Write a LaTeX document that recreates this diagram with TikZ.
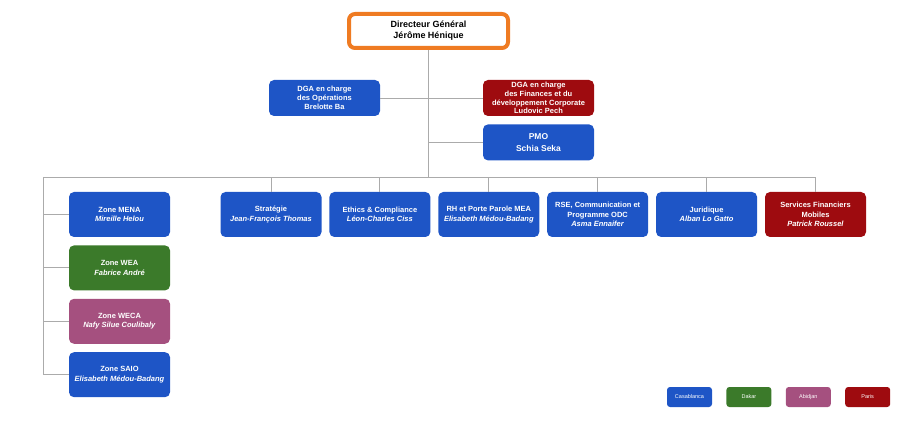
\documentclass[tikz,border=0pt]{standalone}
\usepackage{fontspec}
\setmainfont{Liberation Sans}
\usetikzlibrary{positioning}
\definecolor{casablue}{HTML}{1E55C6}
\definecolor{dakargreen}{HTML}{3B7A2A}
\definecolor{abidjanpink}{HTML}{A5507F}
\definecolor{parisred}{HTML}{9E0B0F}
\definecolor{dgorange}{HTML}{EF7B22}
\definecolor{linkgray}{HTML}{ABABAB}

\begin{document}
\begin{tikzpicture}[x=1pt,y=-1pt,
  node distance=7.5pt,
  box/.style={rounded corners=5pt,minimum width=101pt,minimum height=45pt,inner sep=1pt,align=center,text=white,font=\fontsize{7.5}{9.3}\selectfont\bfseries},
  casabox/.style={box,fill=casablue},
  dakarbox/.style={box,fill=dakargreen},
  abidjanbox/.style={box,fill=abidjanpink},
  parisbox/.style={box,fill=parisred},
  dgabox/.style={minimum width=111pt,minimum height=36pt,font=\fontsize{7.5}{8.8}\selectfont\bfseries},
  dgbox/.style={draw=dgorange,line width=4pt,fill=white,rounded corners=6pt,minimum width=159pt,minimum height=34pt,align=center,font=\fontsize{9}{11}\selectfont\bfseries},
  legbox/.style={rounded corners=3pt,minimum width=45pt,minimum height=20pt,inner sep=1pt,text=white,font=\fontsize{5.5}{6}\selectfont},
  link/.style={draw=linkgray,line width=0.9pt}
]
  \useasboundingbox (0,0) rectangle (900,422);

  % direction
  \node[dgbox] (dg) at (428.5,31) {Directeur Général\\Jérôme Hénique};
  \node[casabox,dgabox] (dgaops) at (324.5,98) {DGA en charge\\des Opérations\\Brelotte Ba};
  \node[parisbox,dgabox] (dgafin) at (538.5,98) {DGA en charge\\des Finances et du\\développement Corporate\\Ludovic Pech};
  \node[casabox,dgabox,below=8pt of dgafin,font=\fontsize{8.5}{12}\selectfont\bfseries] (pmo) {PMO\\Schia Seka};

  % directions fonctionnelles
  \node[casabox] (strat) at (271,214.5) {Stratégie\\\textit{Jean-François Thomas}};
  \node[casabox,right=of strat] (ethics) {Ethics \& Compliance\\\textit{Léon-Charles Ciss}};
  \node[casabox,right=of ethics] (rh) {RH et Porte Parole MEA\\\textit{Elisabeth Médou-Badang}};
  \node[casabox,right=of rh] (rse) {RSE, Communication et\\Programme ODC\\\textit{Asma Ennaifer}};
  \node[casabox,right=of rse] (jur) {Juridique\\\textit{Alban Lo Gatto}};
  \node[parisbox,right=of jur] (sfm) {Services Financiers\\Mobiles\\\textit{Patrick Roussel}};

  % zones
  \node[casabox] (mena) at (119.5,214.5) {Zone MENA\\\textit{Mireille Helou}};
  \node[dakarbox,below=8pt of mena] (wea) {Zone WEA\\\textit{Fabrice André}};
  \node[abidjanbox,below=8pt of wea] (weca) {Zone WECA\\\textit{Nafy Silue Coulibaly}};
  \node[casabox,below=8pt of weca] (saio) {Zone SAIO\\\textit{Elisabeth Médou-Badang}};

  % legende
  \node[legbox,fill=casablue] (casa) at (689.5,397) {Casablanca};
  \node[legbox,fill=dakargreen,right=14pt of casa] (dakar) {Dakar};
  \node[legbox,fill=abidjanpink,right=14pt of dakar] (abidjan) {Abidjan};
  \node[legbox,fill=parisred,right=14pt of abidjan] (paris) {Paris};

  % liens
  \coordinate (busL) at (43,177);
  \path[link] (dg.south) -- (dg.south |- busL);
  \path[link] (busL) -- (busL -| sfm.north);
  \path[link] (busL) |- (saio.west);
  \path[link] (dgaops.east) -- (dgaops.east -| dg.south);
  \path[link] (dgafin.west) -- (dgafin.west -| dg.south);
  \path[link] (pmo.west) -- (pmo.west -| dg.south);
  \foreach \n in {strat,ethics,rh,rse,jur,sfm}
    \path[link] (\n.north) -- (\n.north |- busL);
  \foreach \n in {mena,wea,weca}
    \path[link] (\n.west) -- (\n.west -| busL);
\end{tikzpicture}
\end{document}
